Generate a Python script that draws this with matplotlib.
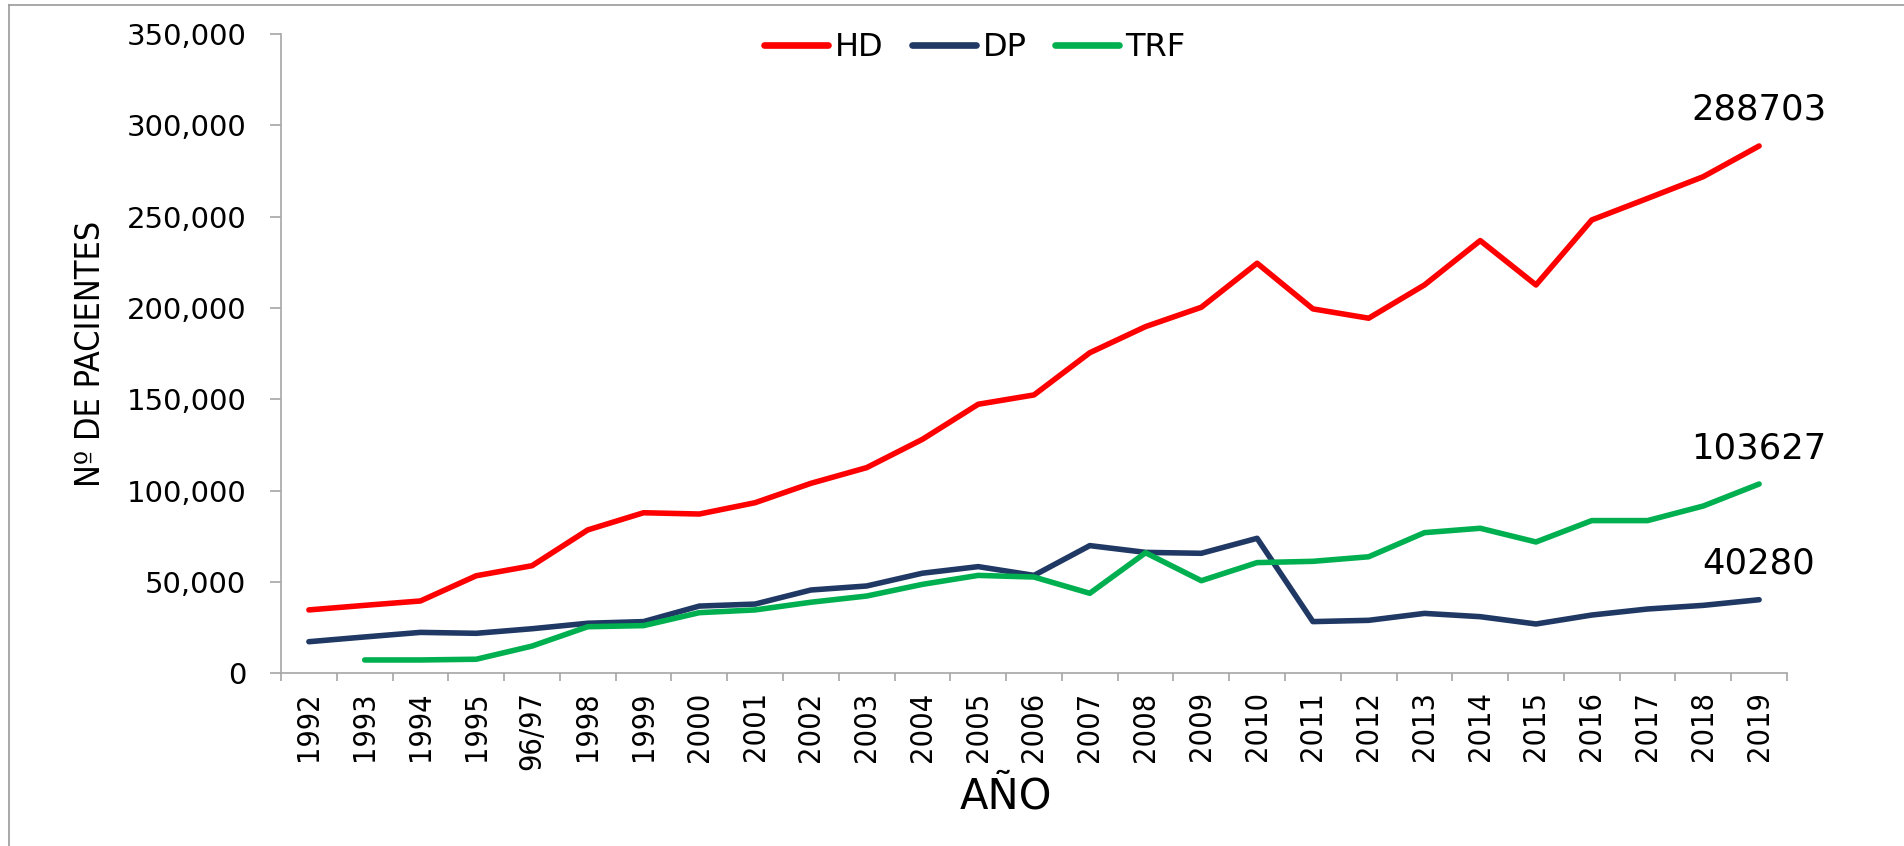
import numpy as np
import matplotlib
matplotlib.use("Agg")
from matplotlib import pyplot as plt
from matplotlib import font_manager
from matplotlib.font_manager import FontProperties
from matplotlib.lines import Line2D
from matplotlib.ticker import FuncFormatter

plt.rcParams['font.family'] = ['DejaVu Sans']

# data
years = ['1992', '1993', '1994', '1995', '96/97', '1998', '1999', '2000', '2001',
         '2002', '2003', '2004', '2005', '2006', '2007', '2008', '2009', '2010',
         '2011', '2012', '2013', '2014', '2015', '2016', '2017', '2018', '2019']
hd = [34700, 37200, 39600, 53400, 58900, 78500, 87900, 87200, 93400, 104000,
      112600, 128100, 147300, 152400, 175500, 189800, 200400, 224500, 199500,
      194400, 212600, 236900, 212600, 248200, 260000, 271900, 288703]
dp = [17300, 19900, 22400, 21900, 24400, 27400, 28300, 36800, 37900, 45600,
      47800, 54800, 58400, 53600, 69900, 66200, 65700, 73900, 28300, 29000,
      32800, 31000, 27000, 31900, 35200, 37200, 40280]
trf = [np.nan, 7300, 7300, 7700, 14900, 25500, 26100, 33200, 34700, 38900,
       42300, 48700, 53600, 52700, 43800, 66000, 50700, 60600, 61300, 63800,
       77000, 79400, 71900, 83600, 83600, 91600, 103627]

series_names = ['HD', 'DP', 'TRF']
series_colors = ['#FF0000', '#203864', '#00B050']

W, H = 1904, 846
grey = '#A6A6A6'


def pick_narrow():
    # rotated labels in the original look condensed: use a narrow face if one is installed
    cands = []
    for f in font_manager.fontManager.ttflist:
        st = str(f.stretch)
        if f.style != 'normal' or f.weight not in (400, 'normal', 'regular'):
            continue
        if 'Narrow' in f.name or 'Condensed' in f.name or st in ('condensed', 'semi-condensed'):
            cands.append(f)
    if cands:
        cands.sort(key=lambda f: ('Liberation' not in f.name, 'DejaVu' not in f.name))
        return FontProperties(fname=cands[0].fname)
    return FontProperties(family='Liberation Sans')


narrow = pick_narrow()

fig = plt.figure(figsize=(W / 100, H / 100), dpi=100)
ax = fig.add_axes([281 / W, 1 - 673.3 / H, (1787 - 281) / W, (673.3 - 34) / H])

x = np.arange(len(years))
for name, vals, col in zip(series_names, [hd, dp, trf], series_colors):
    ax.plot(x, vals, color=col, lw=4.0, solid_capstyle='round', label=name)
    # label the last value above the line end
    ax.annotate(str(vals[-1]), (x[-1], vals[-1]), xytext=(0, 26),
                textcoords='offset pixels', ha='center', va='baseline',
                fontsize=25.5, color='black')

ax.set_xlim(-0.5, len(years) - 0.5)
ax.set_ylim(0, 350000)
ax.set_yticks(np.arange(0, 350001, 50000))
ax.yaxis.set_major_formatter(FuncFormatter(lambda v, p: f'{int(v):,}'))

ax.set_xticks(x)
ax.set_xticklabels(years, rotation=90)
for t in ax.get_xticklabels():
    t.set_fontproperties(narrow)
    t.set_fontsize(22)
ax.set_xticks(np.arange(-0.5, len(years), 1), minor=True)
ax.tick_params(axis='x', which='major', length=0, pad=13)
ax.tick_params(axis='x', which='minor', length=6, width=1.2, color=grey)
ax.tick_params(axis='y', length=8, width=1.2, color=grey, pad=17, labelsize=21)

for s in ['top', 'right']:
    ax.spines[s].set_visible(False)
for s in ['left', 'bottom']:
    ax.spines[s].set_color(grey)
    ax.spines[s].set_linewidth(1.2)

ylab = fig.text(90 / W, 1 - 354 / H, 'Nº DE PACIENTES', rotation=90, ha='center',
                va='center', fontproperties=narrow)
ylab.set_fontsize(24.5)
fig.text(1006 / W, 1 - 808 / H, 'AÑO', ha='center', va='baseline', fontsize=30)

handles = [Line2D([], [], color=c, lw=4.8, solid_capstyle='round') for c in series_colors]
fig.legend(handles, series_names, loc='center', ncol=3, frameon=False,
           bbox_to_anchor=(975 / W, 1 - 48 / H), bbox_transform=fig.transFigure,
           fontsize=23, handlelength=2.0, handletextpad=0.2, columnspacing=0.9,
           borderpad=0, borderaxespad=0)

# thin frame lines along the left and top edge
fig.add_artist(Line2D([9.3 / W, 9.3 / W], [0, 1 - 5 / H], transform=fig.transFigure,
                      color='#999999', lw=1.2))
fig.add_artist(Line2D([9.3 / W, 1], [1 - 5 / H, 1 - 5 / H], transform=fig.transFigure,
                      color='#999999', lw=1.2))

fig.savefig('out.png', dpi=100)
